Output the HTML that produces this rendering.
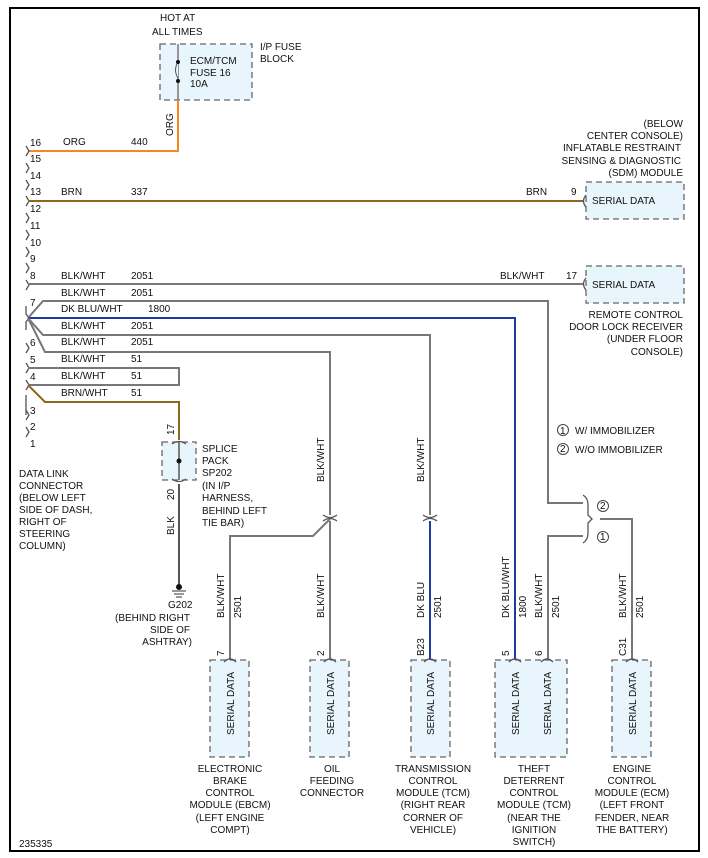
<!DOCTYPE html>
<html><head><meta charset="utf-8"><style>
html,body{margin:0;padding:0;background:#fff}
svg{display:block}
text{font-family:"Liberation Sans",Arial,sans-serif;font-size:10px;fill:#111}
.b{fill:#e9f5fc;stroke:#666;stroke-width:1.3;stroke-dasharray:6,4}
.g{fill:none;stroke:#777;stroke-width:2}
.k{fill:none;stroke:#555;stroke-width:1.3}
</style></head><body>
<svg width="708" height="858" viewBox="0 0 708 858">
<rect x="10" y="8" width="689" height="843" fill="none" stroke="#000" stroke-width="2"/>
<!-- fuse block -->
<text x="160" y="21">HOT AT</text><text x="152" y="35">ALL TIMES</text>
<rect class="b" x="160" y="44" width="92" height="56"/>
<line x1="178" y1="44" x2="178" y2="100" stroke="#777" stroke-width="1.5"/>
<path d="M178,62 q-5,8 0,16" fill="#e9f5fc" stroke="#555"/>
<circle cx="178" cy="62" r="2" fill="#111"/><circle cx="178" cy="81" r="2" fill="#111"/>
<text x="190" y="64">ECM/TCM</text><text x="190" y="76">FUSE 16</text><text x="190" y="87">10A</text>
<text x="260" y="50">I/P FUSE</text><text x="260" y="62">BLOCK</text>
<path d="M178,100 V151 H28" fill="none" stroke="#f7871f" stroke-width="2"/>
<text transform="translate(173,136) rotate(-90)">ORG</text>
<!-- connector pins -->
<g class="k">
<path d="M26,146 l3,5 l-3,5"/><path d="M26,163 l3,5 l-3,5"/><path d="M26,180 l3,5 l-3,5"/><path d="M26,196 l3,5 l-3,5"/>
<path d="M26,213 l3,5 l-3,5"/><path d="M26,230 l3,5 l-3,5"/><path d="M26,247 l3,5 l-3,5"/><path d="M26,263 l3,5 l-3,5"/>
<path d="M26,280 l3,5 l-3,5"/><path d="M26,306 v8 l3,4 l-3,4 v8"/><path d="M26,343 l3,5 l-3,5"/><path d="M26,363 l3,5 l-3,5"/>
<path d="M26,380 l3,5 l-3,5"/><path d="M26,395 v20"/><path d="M26,410 l3,5 l-3,5"/><path d="M26,427 l3,5 l-3,5"/>
</g>
<text x="30" y="146">16</text><text x="30" y="162">15</text><text x="30" y="179">14</text><text x="30" y="195">13</text>
<text x="30" y="212">12</text><text x="30" y="229">11</text><text x="30" y="246">10</text><text x="30" y="262">9</text>
<text x="30" y="279">8</text><text x="30" y="306">7</text><text x="30" y="346">6</text><text x="30" y="363">5</text>
<text x="30" y="380">4</text><text x="30" y="414">3</text><text x="30" y="430">2</text><text x="30" y="447">1</text>
<text x="63" y="145">ORG</text><text x="131" y="145">440</text>
<text x="61" y="195">BRN</text><text x="131" y="195">337</text>
<path d="M28,201 H583" fill="none" stroke="#8a6a1a" stroke-width="2"/>
<text x="526" y="195">BRN</text><text x="571" y="195">9</text>
<text x="61" y="279">BLK/WHT</text><text x="131" y="279">2051</text>
<path class="g" d="M28,284 H583"/>
<text x="500" y="279">BLK/WHT</text><text x="566" y="279">17</text>
<text x="61" y="296">BLK/WHT</text><text x="131" y="296">2051</text>
<text x="61" y="312">DK BLU/WHT</text><text x="148" y="312">1800</text>
<text x="61" y="329">BLK/WHT</text><text x="131" y="329">2051</text>
<text x="61" y="345">BLK/WHT</text><text x="131" y="345">2051</text>
<text x="61" y="362">BLK/WHT</text><text x="131" y="362">51</text>
<text x="61" y="379">BLK/WHT</text><text x="131" y="379">51</text>
<text x="61" y="396">BRN/WHT</text><text x="131" y="396">51</text>
<path class="g" d="M28,318 L43,301 H548 V503 H583"/>
<path d="M28,318 H515 V660" fill="none" stroke="#1c3d9a" stroke-width="2"/>
<path class="g" d="M28,318 L43,335 H430 V515"/>
<path class="g" d="M28,318 L45,352 H330 V515"/>
<path class="g" d="M28,368 H179 V385 H28"/>
<path d="M28,385 L45,402 H179 V440" fill="none" stroke="#8a6a1a" stroke-width="2"/>
<!-- SDM -->
<text x="683" y="127" text-anchor="end">(BELOW</text><text x="683" y="139" text-anchor="end">CENTER CONSOLE)</text>
<text x="681" y="151" text-anchor="end">INFLATABLE RESTRAINT</text><text x="681" y="164" text-anchor="end">SENSING &amp; DIAGNOSTIC</text>
<text x="683" y="176" text-anchor="end">(SDM) MODULE</text>
<rect class="b" x="586" y="182" width="98" height="37"/>
<path class="k" d="M586,195 q-5,6 0,12"/>
<text x="592" y="204">SERIAL DATA</text>
<rect class="b" x="586" y="266" width="98" height="37"/>
<path class="k" d="M586,278 q-5,6 0,12"/>
<text x="592" y="288">SERIAL DATA</text>
<text x="683" y="318" text-anchor="end">REMOTE CONTROL</text><text x="683" y="330" text-anchor="end">DOOR LOCK RECEIVER</text>
<text x="683" y="342" text-anchor="end">(UNDER FLOOR</text><text x="683" y="355" text-anchor="end">CONSOLE)</text>
<!-- legend -->
<circle cx="563" cy="430" r="5.5" fill="none" stroke="#444"/><text x="560" y="434" font-size="8">1</text>
<text x="575" y="434">W/ IMMOBILIZER</text>
<circle cx="563" cy="449" r="5.5" fill="none" stroke="#444"/><text x="560" y="452" font-size="8">2</text>
<text x="575" y="453">W/O IMMOBILIZER</text>
<!-- bracket -->
<path class="k" d="M583,495 q5,3 5,10 v10 l4,4 l-4,4 v10 q0,7 -5,10"/>
<path class="g" d="M600,519 H632 V660"/>
<path class="g" d="M583,536 H548 V660"/>
<circle cx="603" cy="506" r="5.5" fill="none" stroke="#444"/><text x="600" y="509" font-size="8">2</text>
<circle cx="603" cy="537" r="5.5" fill="none" stroke="#444"/><text x="600" y="540" font-size="8">1</text>
<!-- splice pack -->
<text transform="translate(174,435) rotate(-90)">17</text>
<rect class="b" x="162" y="442" width="34" height="38"/>
<path class="k" d="M172,444 q7,-5 14,0 M172,479 q7,5 14,0"/>
<line x1="179" y1="442" x2="179" y2="480" stroke="#555" stroke-width="1.5"/>
<circle cx="179" cy="461" r="2.5" fill="#111"/>
<text x="202" y="452">SPLICE</text><text x="202" y="464">PACK</text><text x="202" y="476">SP202</text>
<text x="202" y="489">(IN I/P</text><text x="202" y="501">HARNESS,</text><text x="202" y="514">BEHIND LEFT</text><text x="202" y="526">TIE BAR)</text>
<text transform="translate(174,500) rotate(-90)">20</text>
<path d="M179,484 V585" stroke="#555" stroke-width="2"/>
<text transform="translate(174,535) rotate(-90)">BLK</text>
<circle cx="179" cy="587" r="3" fill="#111"/>
<path d="M172,591 H186 M174,594 H184 M176,597 H182" stroke="#333"/>
<text x="168" y="608">G202</text>
<text x="190" y="621" text-anchor="end">(BEHIND RIGHT</text><text x="190" y="633" text-anchor="end">SIDE OF</text><text x="192" y="645" text-anchor="end">ASHTRAY)</text>
<text x="19" y="477">DATA LINK</text><text x="19" y="489">CONNECTOR</text><text x="19" y="501">(BELOW LEFT</text>
<text x="19" y="513">SIDE OF DASH,</text><text x="19" y="525">RIGHT OF</text><text x="19" y="537">STEERING</text><text x="19" y="549">COLUMN)</text>
<!-- splices -->
<path class="k" d="M323,515 q7,5 14,0 M323,521 q7,-5 14,0"/>
<path class="k" d="M423,515 q7,5 14,0 M423,521 q7,-5 14,0"/>
<path class="g" d="M330,521 V660"/>
<path class="g" d="M330,519 L313,536 H230 V660"/>
<path d="M430,521 V660" stroke="#1c3d9a" stroke-width="2"/>
<text transform="translate(324,482) rotate(-90)">BLK/WHT</text>
<text transform="translate(424,482) rotate(-90)">BLK/WHT</text>
<!-- wire labels bottom -->
<text transform="translate(224,618) rotate(-90)">BLK/WHT</text><text transform="translate(241,618) rotate(-90)">2501</text>
<text transform="translate(324,618) rotate(-90)">BLK/WHT</text>
<text transform="translate(424,618) rotate(-90)">DK BLU</text><text transform="translate(441,618) rotate(-90)">2501</text>
<text transform="translate(509,618) rotate(-90)">DK BLU/WHT</text><text transform="translate(526,618) rotate(-90)">1800</text>
<text transform="translate(542,618) rotate(-90)">BLK/WHT</text><text transform="translate(559,618) rotate(-90)">2501</text>
<text transform="translate(626,618) rotate(-90)">BLK/WHT</text><text transform="translate(643,618) rotate(-90)">2501</text>
<text transform="translate(224,656) rotate(-90)">7</text><text transform="translate(324,656) rotate(-90)">2</text>
<text transform="translate(424,656) rotate(-90)">B23</text><text transform="translate(509,656) rotate(-90)">5</text>
<text transform="translate(542,656) rotate(-90)">6</text><text transform="translate(626,656) rotate(-90)">C31</text>
<!-- modules -->
<rect class="b" x="210" y="660" width="39" height="97"/>
<rect class="b" x="310" y="660" width="39" height="97"/>
<rect class="b" x="411" y="660" width="39" height="97"/>
<rect class="b" x="495" y="660" width="72" height="97"/>
<rect class="b" x="612" y="660" width="39" height="97"/>
<g class="k"><path d="M224,662 q6,-6 12,0"/><path d="M324,662 q6,-6 12,0"/><path d="M424,662 q6,-6 12,0"/><path d="M509,662 q6,-6 12,0"/><path d="M541,662 q6,-6 12,0"/><path d="M626,662 q6,-6 12,0"/></g>
<g>
<text transform="translate(234,735) rotate(-90)">SERIAL DATA</text>
<text transform="translate(334,735) rotate(-90)">SERIAL DATA</text>
<text transform="translate(434,735) rotate(-90)">SERIAL DATA</text>
<text transform="translate(519,735) rotate(-90)">SERIAL DATA</text>
<text transform="translate(551,735) rotate(-90)">SERIAL DATA</text>
<text transform="translate(636,735) rotate(-90)">SERIAL DATA</text>
</g>
<g text-anchor="middle">
<text x="230" y="772">ELECTRONIC</text><text x="230" y="784">BRAKE</text><text x="230" y="796">CONTROL</text><text x="230" y="808">MODULE (EBCM)</text><text x="230" y="821">(LEFT ENGINE</text><text x="230" y="833">COMPT)</text>
<text x="332" y="772">OIL</text><text x="332" y="784">FEEDING</text><text x="332" y="796">CONNECTOR</text>
<text x="433" y="772">TRANSMISSION</text><text x="433" y="784">CONTROL</text><text x="433" y="796">MODULE (TCM)</text><text x="433" y="808">(RIGHT REAR</text><text x="433" y="821">CORNER OF</text><text x="433" y="833">VEHICLE)</text>
<text x="534" y="772">THEFT</text><text x="534" y="784">DETERRENT</text><text x="534" y="796">CONTROL</text><text x="534" y="808">MODULE (TCM)</text><text x="534" y="821">(NEAR THE</text><text x="534" y="833">IGNITION</text><text x="534" y="845">SWITCH)</text>
<text x="632" y="772">ENGINE</text><text x="632" y="784">CONTROL</text><text x="632" y="796">MODULE (ECM)</text><text x="632" y="808">(LEFT FRONT</text><text x="632" y="821">FENDER, NEAR</text><text x="632" y="833">THE BATTERY)</text>
</g>
<text x="19" y="847">235335</text>
</svg>
</body></html>
